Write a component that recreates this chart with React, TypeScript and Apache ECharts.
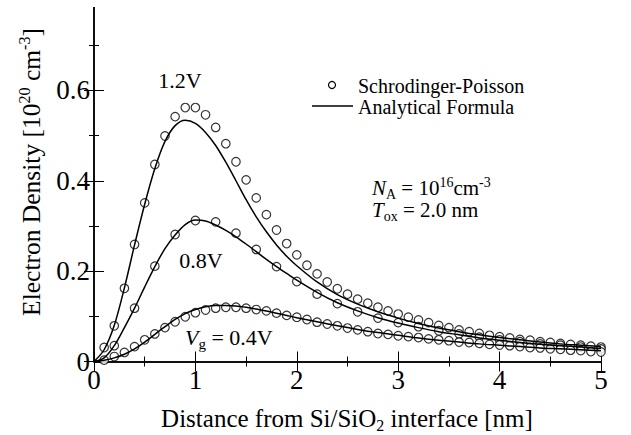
import React, { useEffect, useRef } from "react";
import * as echarts from "echarts";

const FONT = "'Liberation Serif', 'Times New Roman', serif";

// Schrodinger-Poisson (circles)
const spX1 = [0.1,0.2,0.3,0.4,0.5,0.6,0.7,0.8,0.9,1.0,1.1,1.2,1.3,1.4,1.5,1.6,1.7,1.8,1.9,2.0,2.1,2.2,2.3,2.4,2.5,2.6,2.7,2.8,2.9,3.0,3.1,3.2,3.3,3.4,3.5,3.6,3.7,3.8,3.9,4.0,4.1,4.2,4.3,4.4,4.5,4.6,4.7,4.8,4.9,5.0];
const sp12 = [0.031,0.079,0.162,0.259,0.351,0.436,0.499,0.542,0.562,0.562,0.546,0.518,0.482,0.442,0.402,0.362,0.325,0.291,0.261,0.236,0.213,0.194,0.176,0.161,0.149,0.138,0.129,0.120,0.112,0.105,0.098,0.092,0.086,0.080,0.075,0.070,0.066,0.062,0.058,0.055,0.052,0.049,0.047,0.044,0.042,0.040,0.038,0.036,0.034,0.032];
const sp04 = [0.003,0.011,0.020,0.033,0.048,0.061,0.075,0.088,0.099,0.108,0.114,0.118,0.120,0.120,0.118,0.115,0.112,0.107,0.102,0.098,0.093,0.087,0.083,0.079,0.074,0.070,0.066,0.062,0.060,0.057,0.055,0.053,0.050,0.048,0.046,0.043,0.042,0.040,0.038,0.0365,0.035,0.033,0.031,0.030,0.028,0.027,0.025,0.024,0.022,0.021];
const spX2 = [0.2,0.4,0.6,0.8,1.0,1.2,1.4,1.6,1.8,2.0,2.2,2.4,2.6,2.8,3.0,3.2,3.4,3.6,3.8,4.0,4.2,4.4,4.6,4.8,5.0];
const sp08 = [0.035,0.118,0.211,0.281,0.312,0.309,0.284,0.248,0.210,0.177,0.149,0.128,0.110,0.096,0.086,0.077,0.068,0.061,0.054,0.048,0.044,0.039,0.036,0.032,0.028];

// Analytical formula (lines)
const lineX = [0,0.1,0.2,0.3,0.4,0.5,0.6,0.7,0.8,0.9,1.0,1.1,1.2,1.3,1.4,1.5,1.6,1.7,1.8,1.9,2.0,2.2,2.4,2.6,2.8,3.0,3.2,3.4,3.6,3.8,4.0,4.2,4.4,4.6,4.8,5.0];
const af12 = [0,0.026,0.08,0.163,0.258,0.348,0.427,0.487,0.522,0.534,0.527,0.507,0.478,0.441,0.400,0.358,0.320,0.287,0.258,0.233,0.212,0.176,0.148,0.127,0.110,0.096,0.084,0.074,0.066,0.059,0.053,0.048,0.043,0.039,0.036,0.033];
const af08 = [0,0.008,0.035,0.075,0.118,0.165,0.210,0.250,0.280,0.303,0.313,0.311,0.302,0.290,0.276,0.260,0.243,0.226,0.210,0.195,0.180,0.153,0.130,0.112,0.097,0.085,0.075,0.066,0.059,0.052,0.047,0.042,0.038,0.035,0.032,0.029];
const af04 = [0,0.003,0.008,0.016,0.028,0.043,0.060,0.077,0.093,0.106,0.115,0.121,0.124,0.124,0.123,0.120,0.116,0.112,0.107,0.102,0.097,0.088,0.079,0.071,0.064,0.058,0.052,0.047,0.043,0.039,0.036,0.033,0.030,0.028,0.026,0.024];

const xTicks = [0, 1, 2, 3, 4, 5];
const yTicks = [0, 0.2, 0.4, 0.6];

const zip = (xs: number[], ys: number[]) => xs.map((x, i) => [x, ys[i]]);

export default function App() {
  const ref = useRef<HTMLDivElement>(null);
  useEffect(() => {
    if (!ref.current) return;
    const chart = echarts.init(ref.current, null, { renderer: "svg" });
    const axisCommon = {
      type: "value" as const,
      axisLine: { show: true, lineStyle: { color: "#000", width: 1.5 } },
      axisTick: { show: true, inside: true, length: 10, lineStyle: { color: "#000", width: 1 } },
      minorTick: { show: true, splitNumber: 2, length: 5, lineStyle: { color: "#000", width: 1 } },
      splitLine: { show: false },
      minorSplitLine: { show: false },
    };
    const lblRich = { t: { fontFamily: FONT, fontSize: 27, color: "#000", lineHeight: 30 } };
    const scatter = (data: number[][]) => ({
      type: "scatter",
      data,
      symbol: "circle",
      symbolSize: 8.5,
      itemStyle: { color: "#fff", borderColor: "#000", borderWidth: 1.2 },
      z: 3,
    });
    const line = (data: number[][]) => ({
      type: "line",
      data,
      smooth: 0.3,
      showSymbol: false,
      symbol: "none",
      lineStyle: { color: "#000", width: 1.5 },
      z: 4,
    });
    chart.setOption({
      animation: false,
      textStyle: { fontFamily: FONT },
      grid: { left: 94, right: 30, top: 0, bottom: 73.5, containLabel: false },
      xAxis: [
        {
          ...axisCommon,
          position: "bottom",
          min: 0,
          max: 5,
          interval: 1,
          axisLabel: {
            fontFamily: FONT,
            fontSize: 27,
            color: "#000",
            margin: 3,
            rich: lblRich,
            formatter: (v: number) => (xTicks.includes(v) ? `{t|${v}}` : ""),
          },
        },
        { ...axisCommon, position: "top", min: 0, max: 5, interval: 1, axisLabel: { show: false } },
      ],
      yAxis: [
        {
          ...axisCommon,
          position: "left",
          min: 0,
          max: 0.8,
          interval: 0.2,
          axisLabel: {
            fontFamily: FONT,
            fontSize: 27,
            color: "#000",
            margin: 4,
            rich: lblRich,
            formatter: (v: number) => {
              const t = yTicks.find((k) => Math.abs(k - v) < 1e-6);
              return t === undefined ? "" : `{t|${t === 0 ? "0" : t.toFixed(1)}}`;
            },
          },
        },
        { ...axisCommon, position: "right", min: 0, max: 0.8, interval: 0.2, axisLabel: { show: false } },
      ],
      series: [
        scatter(zip(spX1, sp12)),
        scatter(zip(spX2, sp08)),
        scatter(zip(spX1, sp04)),
        line(zip(lineX, af12)),
        line(zip(lineX, af08)),
        line(zip(lineX, af04)),
      ],
      graphic: [
        { type: "rect", shape: { x: 0, y: 0, width: 631, height: 7 }, style: { fill: "#fff" }, z: 100 },
        {
          type: "text",
          x: 31,
          y: 172,
          rotation: Math.PI / 2,
          style: {
            text: "{a|Electron Density [10}{s|20}{a| cm}{s|-3}{a|]}",
            align: "center",
            verticalAlign: "middle",
            fill: "#000",
            rich: {
              a: { fontFamily: FONT, fontSize: 25.5, lineHeight: 30, fill: "#000" },
              s: { fontFamily: FONT, fontSize: 16, lineHeight: 16, verticalAlign: "top", fill: "#000" },
            },
          },
        },
        {
          type: "text",
          x: 347,
          y: 418,
          style: {
            text: "{a|Distance from Si/SiO}{b|2}{a| interface [nm]}",
            align: "center",
            verticalAlign: "middle",
            fill: "#000",
            rich: {
              a: { fontFamily: FONT, fontSize: 25, lineHeight: 30, fill: "#000" },
              b: { fontFamily: FONT, fontSize: 16, lineHeight: 16, verticalAlign: "bottom", fill: "#000" },
            },
          },
        },
        { type: "text", x: 180, y: 80, style: { text: "1.2V", font: `22px ${FONT}`, fill: "#000", align: "center", verticalAlign: "middle" } },
        { type: "text", x: 201, y: 260, style: { text: "0.8V", font: `22px ${FONT}`, fill: "#000", align: "center", verticalAlign: "middle" } },
        {
          type: "text",
          x: 185,
          y: 337,
          style: {
            text: "{i|V}{b|g}{a| = 0.4V}",
            align: "left",
            verticalAlign: "middle",
            fill: "#000",
            rich: {
              a: { fontFamily: FONT, fontSize: 22, lineHeight: 28, fill: "#000" },
              i: { fontFamily: FONT, fontSize: 22, fontStyle: "italic", lineHeight: 28, fill: "#000" },
              b: { fontFamily: FONT, fontSize: 15, lineHeight: 15, verticalAlign: "bottom", fill: "#000" },
            },
          },
        },
        { type: "circle", shape: { cx: 332, cy: 85, r: 3.5 }, style: { fill: "#fff", stroke: "#000", lineWidth: 1.2 } },
        { type: "line", shape: { x1: 312, y1: 106, x2: 353, y2: 106 }, style: { stroke: "#000", lineWidth: 1.5 } },
        { type: "text", x: 358, y: 86, style: { text: "Schrodinger-Poisson", font: `20px ${FONT}`, fill: "#000", align: "left", verticalAlign: "middle" } },
        { type: "text", x: 358, y: 107, style: { text: "Analytical Formula", font: `20px ${FONT}`, fill: "#000", align: "left", verticalAlign: "middle" } },
        {
          type: "text",
          x: 372,
          y: 188,
          style: {
            text: "{i|N}{b|A}{a| = 10}{s|16}{a|cm}{s|-3}",
            align: "left",
            verticalAlign: "middle",
            fill: "#000",
            rich: {
              a: { fontFamily: FONT, fontSize: 21, lineHeight: 26, fill: "#000" },
              i: { fontFamily: FONT, fontSize: 21, fontStyle: "italic", lineHeight: 26, fill: "#000" },
              b: { fontFamily: FONT, fontSize: 14, lineHeight: 14, verticalAlign: "bottom", fill: "#000" },
              s: { fontFamily: FONT, fontSize: 14, lineHeight: 14, verticalAlign: "top", fill: "#000" },
            },
          },
        },
        {
          type: "text",
          x: 372,
          y: 210,
          style: {
            text: "{i|T}{b|ox}{a| = 2.0 nm}",
            align: "left",
            verticalAlign: "middle",
            fill: "#000",
            rich: {
              a: { fontFamily: FONT, fontSize: 21, lineHeight: 26, fill: "#000" },
              i: { fontFamily: FONT, fontSize: 21, fontStyle: "italic", lineHeight: 26, fill: "#000" },
              b: { fontFamily: FONT, fontSize: 14, lineHeight: 14, verticalAlign: "bottom", fill: "#000" },
            },
          },
        },
      ],
    });
    return () => chart.dispose();
  }, []);
  return <div ref={ref} style={{ width: 631, height: 435, position: "absolute", left: 0, top: 0, background: "#fff" }} />;
}
